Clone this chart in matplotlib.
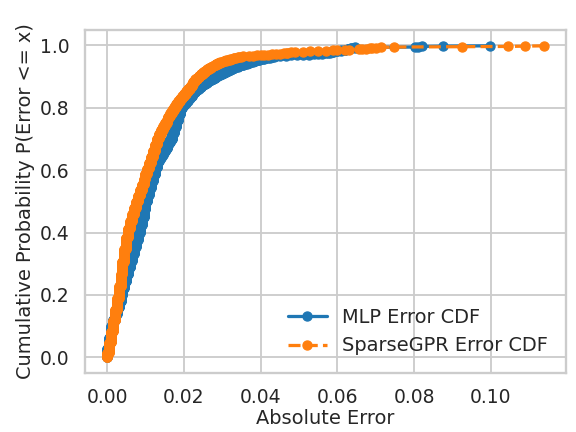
import numpy as np
import matplotlib
matplotlib.use("Agg")
import matplotlib.pyplot as plt
import seaborn as sns

# Absolute errors as value -> how many test samples have it
mlp_err = [0.0000, 0.0005, 0.0010, 0.0015, 0.0020, 0.0025, 0.0030, 0.0035,
           0.0040, 0.0045, 0.0050, 0.0055, 0.0060, 0.0065, 0.0070, 0.0075,
           0.0080, 0.0085, 0.0090, 0.0095, 0.0100, 0.0105, 0.0110, 0.0115,
           0.0120, 0.0125, 0.0130, 0.0135, 0.0140, 0.0145, 0.0150, 0.0155,
           0.0160, 0.0165, 0.0170, 0.0175, 0.0180, 0.0185, 0.0190, 0.0195,
           0.0200, 0.0205, 0.0210, 0.0215, 0.0220, 0.0225, 0.0230, 0.0235,
           0.0240, 0.0245, 0.0250, 0.0255, 0.0260, 0.0265, 0.0270, 0.0275,
           0.0280, 0.0285, 0.0290, 0.0295, 0.0300, 0.0305, 0.0310, 0.0315,
           0.0320, 0.0325, 0.0330, 0.0335, 0.0340, 0.0345, 0.0350, 0.0355,
           0.0360, 0.0365, 0.0370, 0.0375, 0.0380, 0.0385, 0.0390, 0.0395,
           0.0400, 0.0405, 0.0410, 0.0415, 0.0420, 0.0425, 0.0430, 0.0435,
           0.0440, 0.0450, 0.0465, 0.0480, 0.0495, 0.0510, 0.0525, 0.0540,
           0.0550, 0.0560, 0.0570, 0.0575, 0.0580, 0.0590, 0.0600, 0.0610,
           0.0620, 0.0627, 0.0635, 0.0647, 0.0802, 0.0810, 0.0820, 0.0876,
           0.0998]
mlp_cnt = [28, 35, 37, 20, 20, 20, 20, 20,
           22, 22, 22, 22, 22, 22, 23, 22,
           23, 25, 25, 25, 25, 22, 22, 22,
           21, 22, 21, 10, 10, 10, 10, 10,
           10, 10, 20, 20, 20, 20, 20, 8,
           8, 7, 8, 7, 7, 6, 5, 6,
           5, 5, 5, 4, 4, 4, 3, 4,
           4, 3, 3, 3, 3, 3, 3, 3,
           3, 3, 3, 2, 2, 2, 2, 2,
           2, 2, 2, 2, 2, 2, 2, 2,
           1, 1, 1, 1, 1, 1, 2, 1,
           1, 1, 1, 1, 1, 1, 1, 1,
           1, 1, 1, 1, 2, 2, 2, 2,
           3, 3, 2, 2, 1, 1, 1, 1,
           1]

gpr_err = [0.0000, 0.0005, 0.0010, 0.0015, 0.0020, 0.0025, 0.0030, 0.0035,
           0.0040, 0.0045, 0.0050, 0.0055, 0.0060, 0.0065, 0.0070, 0.0075,
           0.0080, 0.0085, 0.0090, 0.0095, 0.0100, 0.0105, 0.0110, 0.0115,
           0.0120, 0.0125, 0.0130, 0.0135, 0.0140, 0.0145, 0.0150, 0.0155,
           0.0160, 0.0165, 0.0170, 0.0175, 0.0180, 0.0185, 0.0190, 0.0195,
           0.0200, 0.0205, 0.0210, 0.0215, 0.0220, 0.0225, 0.0230, 0.0235,
           0.0240, 0.0245, 0.0250, 0.0255, 0.0260, 0.0265, 0.0270, 0.0275,
           0.0280, 0.0285, 0.0290, 0.0295, 0.0300, 0.0305, 0.0310, 0.0315,
           0.0320, 0.0325, 0.0330, 0.0335, 0.0340, 0.0345, 0.0350, 0.0355,
           0.0370, 0.0380, 0.0390, 0.0400, 0.0410, 0.0420, 0.0430, 0.0440,
           0.0450, 0.0460, 0.0470, 0.0480, 0.0490, 0.0510, 0.0530, 0.0550,
           0.0570, 0.0590, 0.0600, 0.0620, 0.0630, 0.0657, 0.0665, 0.0675,
           0.0685, 0.0690, 0.0700, 0.0715, 0.0747, 0.0925, 0.1046, 0.1089,
           0.1138]
gpr_cnt = [15, 33, 35, 35, 35, 37, 38, 39,
           40, 40, 38, 28, 24, 22, 21, 20,
           19, 18, 18, 17, 17, 17, 18, 19,
           20, 20, 19, 15, 13, 12, 11, 10,
           10, 10, 10, 10, 10, 9, 8, 8,
           8, 8, 8, 7, 8, 8, 7, 6,
           6, 6, 5, 5, 5, 4, 4, 3,
           3, 3, 3, 2, 2, 2, 2, 2,
           2, 2, 2, 1, 1, 1, 1, 1,
           1, 1, 1, 1, 1, 1, 1, 1,
           1, 1, 2, 1, 1, 1, 1, 1,
           1, 1, 1, 1, 1, 1, 1, 1,
           1, 1, 1, 1, 1, 1, 1, 1,
           1]

series = [("MLP Error CDF", mlp_err, mlp_cnt, "#1f77b4", "-"),
          ("SparseGPR Error CDF", gpr_err, gpr_cnt, "#ff7f0e", "--")]

sns.set_theme(style="whitegrid", context="talk",
              rc={"axes.labelsize": 15.5, "xtick.labelsize": 15,
                  "ytick.labelsize": 15, "legend.fontsize": 15.5})

fig, ax = plt.subplots(figsize=(6.4, 4.8), dpi=90)

for label, err, cnt, color, ls in series:
    x = np.sort(np.repeat(err, cnt))
    y = np.arange(len(x)) / len(x)
    ax.plot(x, y, marker="o", linestyle=ls, color=color, label=label,
            linewidth=2.6, markersize=7.3)

ax.set_xlabel("Absolute Error", labelpad=1)
ax.set_ylabel("Cumulative Probability P(Error <= x)")
ax.legend(loc="lower right", frameon=False)

fig.subplots_adjust(left=0.148, right=0.982, top=0.93, bottom=0.137)
plt.savefig("out.png", dpi=90)
